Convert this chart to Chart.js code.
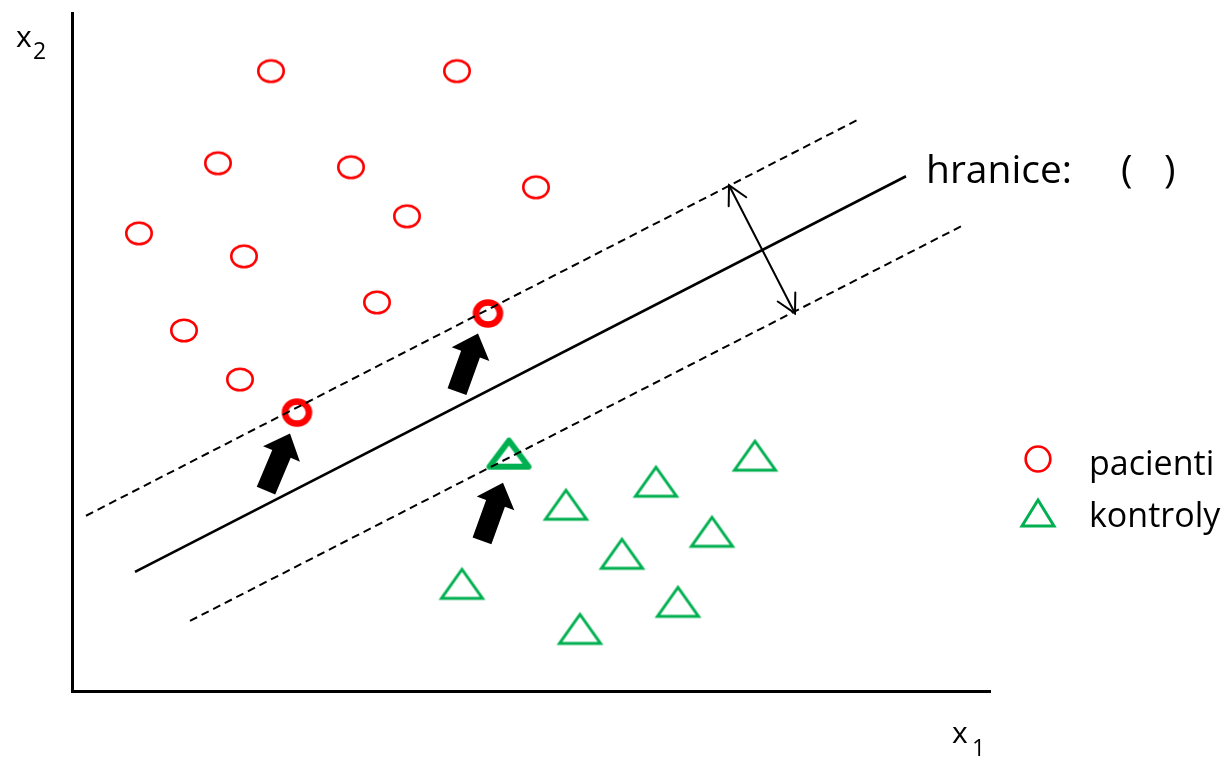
<!DOCTYPE html>
<html>
<head>
<meta charset="utf-8">
<title>SVM hranice</title>
<script src="https://cdn.jsdelivr.net/npm/chart.js@4.4.1/dist/chart.umd.min.js"></script>
<style>
  html, body { margin: 0; padding: 0; background: #fff; }
  #wrap { width: 1228px; height: 757px; }
</style>
</head>
<body>
<div id="wrap"><canvas id="svmChart" width="1228" height="757"></canvas></div>
<script>
// data (x1, x2 in arbitrary units)
const pacientiX = [1.99, 3.85, 1.46, 2.79, 4.64, 3.35, 0.67, 1.72, 3.05, 1.12, 1.68];
const pacientiY = [6.19, 6.19, 5.27, 5.23, 5.03, 4.74, 4.57, 4.34, 3.88, 3.60, 3.11];
const pacientiSvX = [2.25, 4.16];
const pacientiSvY = [2.78, 3.77];

const kontrolyX = [6.83, 5.84, 4.94, 6.40, 5.50, 3.90, 6.06, 5.08];
const kontrolyY = [2.35, 2.09, 1.86, 1.59, 1.37, 1.07, 0.89, 0.62];
const kontrolySvX = [4.37];
const kontrolySvY = [2.37];

// boundary and margins (two end points each)
const hraniceX = [0.63, 8.34];
const hraniceY = [1.19, 5.14];
const marginUpX = [0.14, 7.85];
const marginUpY = [1.75, 5.70];
const marginDownX = [1.18, 8.91];
const marginDownY = [0.70, 4.65];

// margin width arrow and arrows pointing at support vectors: [tailX, tailY, tipX, tipY]
const marginArrow = [6.57, 5.05, 7.23, 3.77];
const svArrows = [
    [1.94, 2.00, 2.18, 2.57],
    [3.85, 2.99, 4.06, 3.57],
    [4.10, 1.50, 4.31, 2.08]
];

const xRange = [0, 9.18];
const yRange = [0, 6.77];

const RED = '#ff0000';
const GREEN = '#00b050';
const FONT = "'Open Sans', 'Noto Sans', sans-serif";

const toPoints = (xs, ys) => xs.map((x, i) => ({ x: x, y: ys[i] }));

// point markers drawn on small canvases
function ellipseMark(rx, ry, lw, color) {
    const c = document.createElement('canvas');
    c.width = Math.ceil(2 * rx + lw + 4);
    c.height = Math.ceil(2 * ry + lw + 4);
    const g = c.getContext('2d');
    g.strokeStyle = color;
    g.lineWidth = lw;
    g.beginPath();
    g.ellipse(c.width / 2, c.height / 2, rx, ry, 0, 0, Math.PI * 2);
    g.stroke();
    return c;
}

function triangleMark(w, h, lw, color, join) {
    const c = document.createElement('canvas');
    c.width = Math.ceil(w + lw * 2 + 4);
    c.height = Math.ceil(h + lw * 2 + 4);
    const g = c.getContext('2d');
    const cx = c.width / 2, cy = c.height / 2;
    g.strokeStyle = color;
    g.lineWidth = lw;
    g.lineJoin = join;
    g.beginPath();
    g.moveTo(cx, cy - h / 2);
    g.lineTo(cx + w / 2, cy + h / 2);
    g.lineTo(cx - w / 2, cy + h / 2);
    g.closePath();
    g.stroke();
    return c;
}

const circleImg = ellipseMark(12.7, 10.8, 2.6, RED);
const circleSvImg = ellipseMark(12, 11, 6.5, RED);
const triImg = triangleMark(41, 29, 3, GREEN, 'miter');
const triSvImg = triangleMark(39, 26, 6, GREEN, 'round');
const legendCircle = ellipseMark(12.3, 12.5, 2.7, RED);
const legendTri = triangleMark(32, 26, 3, GREEN, 'miter');

function blockArrow(ctx, x0, y0, x1, y1) {
    const ang = Math.atan2(y1 - y0, x1 - x0);
    const len = Math.hypot(x1 - x0, y1 - y0);
    const shaft = 10, head = 20, headLen = 22;
    ctx.save();
    ctx.translate(x0, y0);
    ctx.rotate(ang);
    ctx.fillStyle = '#000';
    ctx.beginPath();
    ctx.moveTo(0, -shaft);
    ctx.lineTo(len - headLen, -shaft);
    ctx.lineTo(len - headLen, -head);
    ctx.lineTo(len, 0);
    ctx.lineTo(len - headLen, head);
    ctx.lineTo(len - headLen, shaft);
    ctx.lineTo(0, shaft);
    ctx.closePath();
    ctx.fill();
    ctx.restore();
}

function openHead(ctx, tx, ty, fx, fy) {
    const ang = Math.atan2(ty - fy, tx - fx);
    const arm = 21, spread = 0.49;
    ctx.beginPath();
    ctx.moveTo(tx - arm * Math.cos(ang - spread), ty - arm * Math.sin(ang - spread));
    ctx.lineTo(tx, ty);
    ctx.lineTo(tx - arm * Math.cos(ang + spread), ty - arm * Math.sin(ang + spread));
    ctx.stroke();
}

const annotations = {
    id: 'annotations',
    afterDatasetsDraw(chart) {
        const ctx = chart.ctx;
        const sx = chart.scales.x, sy = chart.scales.y;
        const px = v => sx.getPixelForValue(v);
        const py = v => sy.getPixelForValue(v);

        // arrows toward the support vectors
        svArrows.forEach(a => blockArrow(ctx, px(a[0]), py(a[1]), px(a[2]), py(a[3])));

        // margin width arrow
        const ax0 = px(marginArrow[0]), ay0 = py(marginArrow[1]);
        const ax1 = px(marginArrow[2]), ay1 = py(marginArrow[3]);
        ctx.save();
        ctx.strokeStyle = '#000';
        ctx.lineWidth = 2;
        ctx.lineCap = 'round';
        ctx.beginPath();
        ctx.moveTo(ax0, ay0);
        ctx.lineTo(ax1, ay1);
        ctx.stroke();
        openHead(ctx, ax0, ay0, ax1, ay1);
        openHead(ctx, ax1, ay1, ax0, ay0);
        ctx.restore();
    },
    afterDraw(chart) {
        const ctx = chart.ctx;
        const area = chart.chartArea;
        ctx.save();
        ctx.fillStyle = '#000';
        ctx.textBaseline = 'alphabetic';
        ctx.textAlign = 'left';

        // axis names
        ctx.font = '30px ' + FONT;
        ctx.fillText('x', 16, 47);
        ctx.fillText('x', area.right - 38, 743);
        ctx.font = '23px ' + FONT;
        ctx.fillText('2', 33, 59);
        ctx.fillText('1', area.right - 18, 756);

        // boundary label
        ctx.font = '39px ' + FONT;
        ctx.fillText('hranice:', 926, 183);
        ctx.fillText('(', 1121, 183);
        ctx.fillText(')', 1164, 183);

        // legend
        ctx.drawImage(legendCircle, 1038 - legendCircle.width / 2, 459 - legendCircle.height / 2);
        ctx.drawImage(legendTri, 1038 - legendTri.width / 2, 513 - legendTri.height / 2);
        ctx.font = '34px ' + FONT;
        ctx.fillText(chart.data.datasets[3].label, 1089, 475);
        ctx.fillText(chart.data.datasets[5].label, 1089, 527);
        ctx.restore();
    }
};

const ctx = document.getElementById('svmChart').getContext('2d');
const svmChart = new Chart(ctx, {
    type: 'scatter',
    data: {
        datasets: [
            {
                label: 'hranice',
                data: toPoints(hraniceX, hraniceY),
                showLine: true,
                borderColor: '#000',
                borderWidth: 2.6,
                pointRadius: 0
            },
            {
                label: 'okraj+',
                data: toPoints(marginUpX, marginUpY),
                showLine: true,
                borderColor: '#000',
                borderWidth: 2,
                borderDash: [8, 5],
                pointRadius: 0
            },
            {
                label: 'okraj-',
                data: toPoints(marginDownX, marginDownY),
                showLine: true,
                borderColor: '#000',
                borderWidth: 2,
                borderDash: [8, 5],
                pointRadius: 0
            },
            {
                label: 'pacienti',
                data: toPoints(pacientiX, pacientiY),
                pointStyle: circleImg,
                pointRadius: 13
            },
            {
                label: 'pacienti (SV)',
                data: toPoints(pacientiSvX, pacientiSvY),
                pointStyle: circleSvImg,
                pointRadius: 15
            },
            {
                label: 'kontroly',
                data: toPoints(kontrolyX, kontrolyY),
                pointStyle: triImg,
                pointRadius: 20
            },
            {
                label: 'kontroly (SV)',
                data: toPoints(kontrolySvX, kontrolySvY),
                pointStyle: triSvImg,
                pointRadius: 20
            }
        ]
    },
    options: {
        responsive: false,
        animation: false,
        layout: { autoPadding: false, padding: { left: 72, top: 13, right: 238, bottom: 66 } },
        plugins: {
            legend: { display: false },
            tooltip: { enabled: false }
        },
        scales: {
            x: {
                type: 'linear',
                min: xRange[0],
                max: xRange[1],
                grid: { display: false, drawTicks: false },
                ticks: { display: false },
                border: { display: true, color: '#000', width: 3 }
            },
            y: {
                type: 'linear',
                min: yRange[0],
                max: yRange[1],
                grid: { display: false, drawTicks: false },
                ticks: { display: false },
                border: { display: true, color: '#000', width: 3 }
            }
        }
    },
    plugins: [annotations]
});
</script>
</body>
</html>
